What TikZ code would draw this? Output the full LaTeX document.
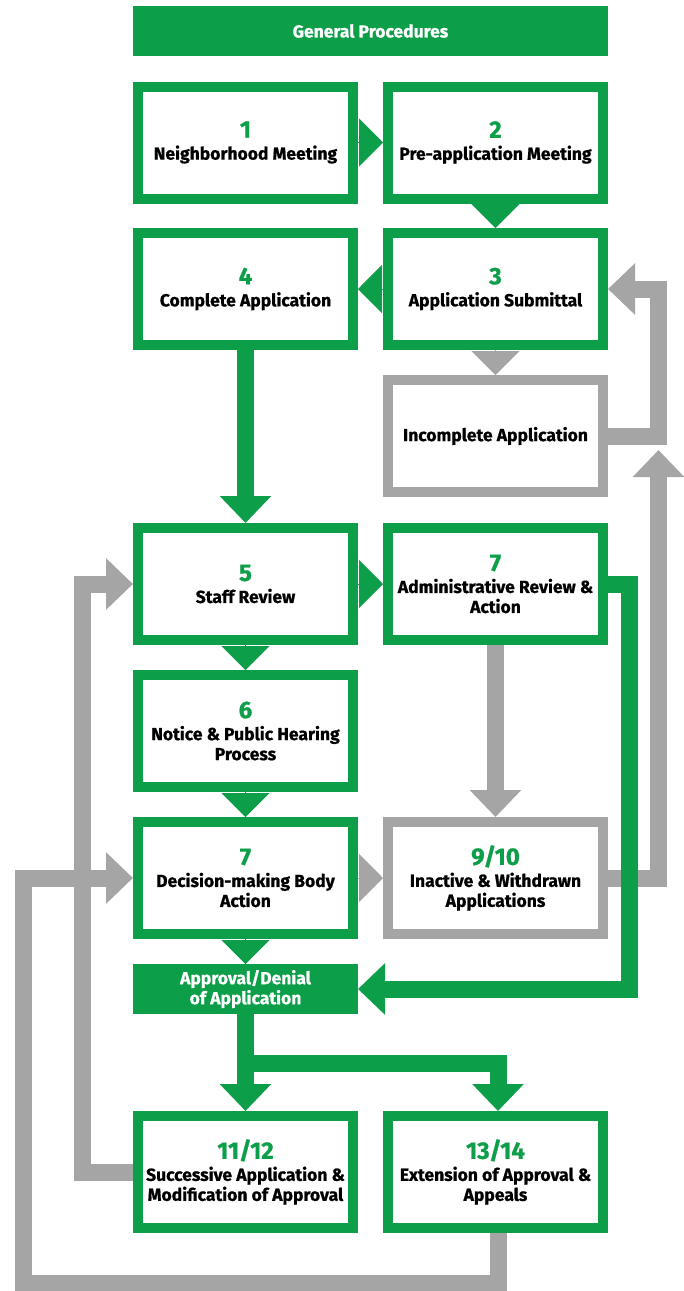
\documentclass[tikz,border=0pt]{standalone}
\usepackage{fontspec}
\setmainfont{Fira Sans}[BoldFeatures={FakeBold=0.8}]
\usetikzlibrary{arrows.meta}
\definecolor{procgreen}{RGB}{12,158,72}
\definecolor{procgray}{RGB}{166,165,166}
\newcommand{\stagenum}[1]{{\fontsize{24}{24}\selectfont\color{procgreen}#1}}

\tikzset{
  stage/.style={draw=procgreen, line width=10pt, fill=white, minimum width=215pt,
    minimum height=112pt, inner sep=0pt, align=center,
    font=\fontsize{17.5}{20}\selectfont\bfseries},
  graystage/.style={stage, draw=procgray},
  banner/.style={fill=procgreen, text=white, inner sep=0pt, outer sep=0pt, align=center,
    font=\fontsize{17.5}{20}\selectfont\bfseries},
  greenflow/.style={draw=procgreen, line width=17pt, -{Triangle[width=50pt,length=27pt]}},
  grayflow/.style={greenflow, draw=procgray},
  greenstub/.style={draw=procgreen, line width=1pt, -{Triangle[width=48pt,length=24pt]}},
  graystub/.style={greenstub, draw=procgray}
}

\begin{document}
\begin{tikzpicture}[x=1pt,y=-1pt]
  \useasboundingbox (0,0) rectangle (684,1291);

  % header
  \node[banner, minimum width=475pt, minimum height=50pt] (head) at (370.5,31) {General Procedures};

  % steps
  \node[stage] (b1) at (245.5,142.5) {\stagenum{1}\\[2pt] Neighborhood Meeting};
  \node[stage] (b2) at (495.5,142.5) {\stagenum{2}\\[2pt] Pre-application Meeting};
  \node[stage] (b4) at (245.5,289) {\stagenum{4}\\[2pt] Complete Application};
  \node[stage] (b3) at (495.5,289) {\stagenum{3}\\[2pt] Application Submittal};
  \node[graystage] (inc) at (495.5,436) {Incomplete Application};
  \node[stage] (b5) at (245.5,584) {\stagenum{5}\\[2pt] Staff Review};
  \node[stage] (b7a) at (495.5,584) {\stagenum{7}\\[2pt] Administrative Review \&\\ Action};
  \node[stage] (b6) at (245.5,731) {\stagenum{6}\\[2pt] Notice \& Public Hearing\\ Process};
  \node[stage] (b7d) at (245.5,878) {\stagenum{7}\\[2pt] Decision-making Body\\ Action};
  \node[graystage] (b910) at (495.5,878) {\stagenum{9/10}\\[2pt] Inactive \& Withdrawn\\ Applications};
  \node[banner, minimum width=225pt, minimum height=50pt] (appr) at (245.5,989) {Approval/Denial\\ of Application};
  \node[stage] (b1112) at (245.5,1172) {\stagenum{11/12}\\[2pt] Successive Application \&\\ Modification of Approval};
  \node[stage] (b1314) at (495.5,1172) {\stagenum{13/14}\\[2pt] Extension of Approval \&\\ Appeals};

  % loose ends of the loops
  \coordinate (retry) at (658.5,450);
  \coordinate (outer) at (23.5,1283.5);

  % gray loops
  \draw[grayflow] (inc.east) -- ++(50.5,0) |- (b3.east);
  \draw[grayflow] (b910.east) -| (retry);
  \draw[grayflow] (b7a.south) -- (b910.north);
  \draw[grayflow] (b1112.west) -- ++(-50.5,0) |- (b5.west);
  \draw[grayflow] ([xshift=2.5pt]b1314.south) |- (outer) |- (b7d.west);

  % green flow
  \draw[greenflow] (b4.south) -- (b5.north);
  \draw[greenflow] (b7a.east) -- ++(21.5,0) |- (appr.east);
  \draw[greenflow] (appr.south) -- (b1112.north);
  \draw[greenflow] (appr.south) -- ++(0,49.5) -| ([xshift=2.5pt]b1314.north);

  % short steps
  \draw[greenstub] (b1.east) -- (b2.west);
  \draw[greenstub] (b2.south) -- (b3.north);
  \draw[greenstub] (b3.west) -- (b4.east);
  \draw[graystub] (b3.south) -- (inc.north);
  \draw[greenstub] (b5.east) -- (b7a.west);
  \draw[greenstub] (b5.south) -- (b6.north);
  \draw[greenstub] (b6.south) -- (b7d.north);
  \draw[graystub] (b7d.east) -- (b910.west);
  \draw[greenstub] (b7d.south) -- (appr.north);
\end{tikzpicture}
\end{document}
